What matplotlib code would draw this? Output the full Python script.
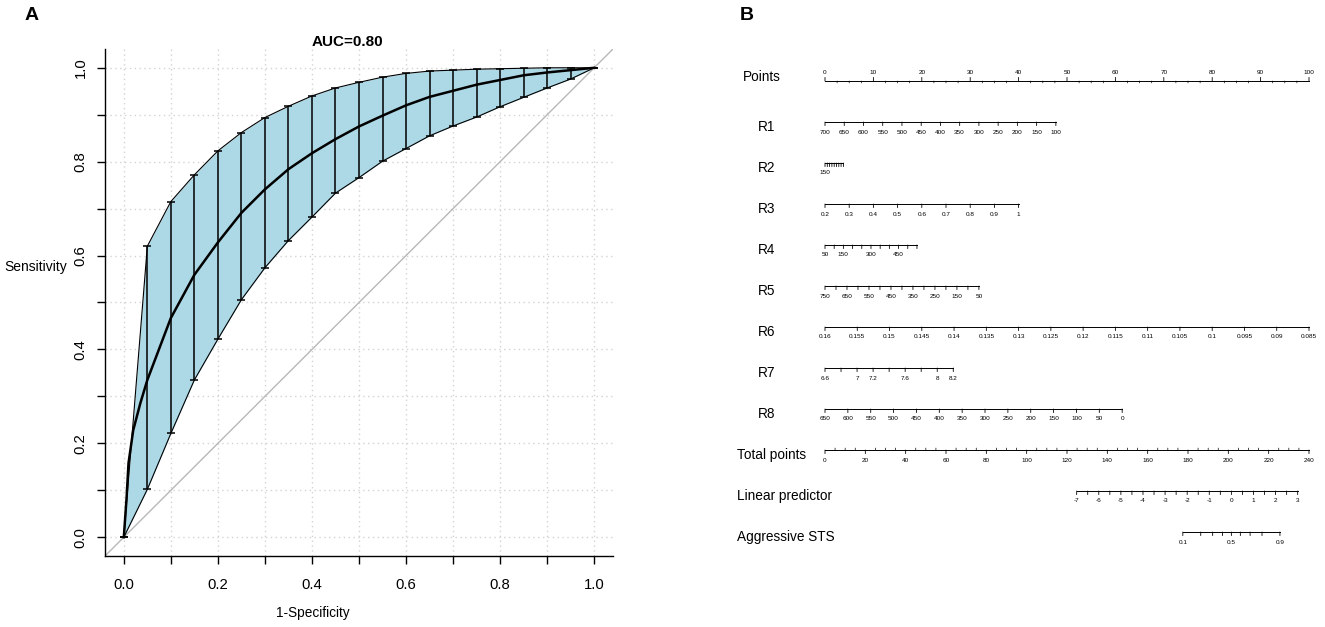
import numpy as np
import matplotlib.pyplot as plt

plt.rcParams['font.family'] = ['Liberation Sans', 'DejaVu Sans']

# ---- panel A: ROC with bootstrap CI ----
ci_fpr = [0.0, 0.05, 0.10, 0.15, 0.20, 0.25, 0.30, 0.35, 0.40, 0.45, 0.50,
          0.55, 0.60, 0.65, 0.70, 0.75, 0.80, 0.85, 0.90, 0.95, 1.0]
sens_upper = [0.0, 0.620, 0.715, 0.772, 0.823, 0.862, 0.894, 0.918, 0.940, 0.957, 0.969,
              0.980, 0.988, 0.993, 0.995, 0.997, 0.998, 0.999, 1.0, 1.0, 1.0]
sens_lower = [0.0, 0.102, 0.221, 0.335, 0.422, 0.506, 0.574, 0.632, 0.682, 0.733, 0.766,
              0.801, 0.828, 0.855, 0.876, 0.895, 0.917, 0.937, 0.957, 0.976, 1.0]

roc_fpr = [0.0, 0.003, 0.006, 0.01, 0.02, 0.035, 0.05, 0.10, 0.15, 0.20, 0.25, 0.30,
           0.35, 0.40, 0.45, 0.50, 0.55, 0.60, 0.65, 0.70, 0.75, 0.80, 0.85,
           0.90, 0.95, 1.0]
roc_sens = [0.0, 0.043, 0.086, 0.158, 0.228, 0.285, 0.335, 0.467, 0.559, 0.628, 0.691, 0.741,
            0.784, 0.818, 0.848, 0.875, 0.898, 0.920, 0.938, 0.951, 0.964, 0.974, 0.984,
            0.990, 0.995, 1.0]
auc_label = "AUC=0.80"

# ---- panel B: nomogram ----
points_ticks = list(range(0, 101, 10))
points_minor = list(np.arange(0, 100.1, 2.5))

R1_ticks = [700, 650, 600, 550, 500, 450, 400, 350, 300, 250, 200, 150, 100]
R1_labels = R1_ticks
R1_pts = 47.7
R2_ticks = [150, 160, 170, 180, 190, 200, 210, 220, 230]
R2_labels = [150]
R2_pts = 3.8
R3_ticks = [0.2, 0.3, 0.4, 0.5, 0.6, 0.7, 0.8, 0.9, 1]
R3_labels = R3_ticks
R3_pts = 40.0
R4_ticks = [50, 100, 150, 200, 250, 300, 350, 400, 450, 500, 550]
R4_labels = [50, 150, 300, 450]
R4_pts = 19.0
R5_ticks = [750, 700, 650, 600, 550, 500, 450, 400, 350, 300, 250, 200, 150, 100, 50]
R5_labels = [750, 650, 550, 450, 350, 250, 150, 50]
R5_pts = 31.8
R6_ticks = [0.16, 0.155, 0.15, 0.145, 0.14, 0.135, 0.13, 0.125, 0.12, 0.115,
            0.11, 0.105, 0.1, 0.095, 0.09, 0.085]
R6_labels = R6_ticks
R6_pts = 100.0
R7_ticks = [6.6, 6.8, 7.0, 7.2, 7.4, 7.6, 7.8, 8.0, 8.2]
R7_labels = [6.6, 7, 7.2, 7.6, 8, 8.2]
R7_pts = 26.5
R8_ticks = [650, 600, 550, 500, 450, 400, 350, 300, 250, 200, 150, 100, 50, 0]
R8_labels = R8_ticks
R8_pts = 61.4

total_ticks = list(range(0, 241, 20))
total_minor = list(range(0, 241, 5))
total_max = 240

lp_ticks = list(np.arange(-7, 3.01, 0.5))
lp_labels = [-7, -6, -5, -4, -3, -2, -1, 0, 1, 2, 3]
lp_pts_range = (52.0, 97.66)   # points at lp=-7 and lp=3

sts_ticks = [0.1, 0.2, 0.3, 0.4, 0.5, 0.6, 0.7, 0.8, 0.9]
sts_labels = [0.1, 0.5, 0.9]


def fmt(v):
    return '%g' % v


W, H = 1325, 627
fig = plt.figure(figsize=(W / 100, H / 100), dpi=100)

# ---------- ROC ----------
ax = fig.add_axes([105 / W, 1 - 556 / H, 508 / W, 507 / H])
ax.set_xlim(-0.04, 1.04)
ax.set_ylim(-0.04, 1.04)
ax.set_axisbelow(True)
ax.set_xticks(np.arange(0, 1.01, 0.2))
ax.set_xticks(np.arange(0.1, 1.0, 0.2), minor=True)
ax.set_yticks(np.arange(0, 1.01, 0.2))
ax.set_yticks(np.arange(0.1, 1.0, 0.2), minor=True)
ax.set_xticklabels(['%.1f' % v for v in np.arange(0, 1.01, 0.2)])
ax.set_yticklabels(['%.1f' % v for v in np.arange(0, 1.01, 0.2)], rotation=90, va='center')
ax.grid(which='both', ls=(0, (1, 2.5)), color='#d3d3d3', lw=1)
ax.tick_params(which='both', direction='out', length=5.5, width=1, labelsize=10.7, pad=10)
ax.tick_params(axis='y', pad=7)
for s in ['top', 'right']:
    ax.spines[s].set_visible(False)
for s in ['left', 'bottom']:
    ax.spines[s].set_linewidth(1)

ax.axline((0, 0), slope=1, color='#b8b8b8', lw=1, zorder=1)
ax.fill_between(ci_fpr, sens_lower, sens_upper, color='#add8e6', lw=0, zorder=2)
ax.plot(ci_fpr, sens_upper, color='k', lw=0.8, zorder=3)
ax.plot(ci_fpr, sens_lower, color='k', lw=0.8, zorder=3)
lo = np.array(sens_lower)
hi = np.array(sens_upper)
ax.errorbar(ci_fpr, lo, yerr=[np.zeros_like(lo), hi - lo], fmt='none', ecolor='k',
            elinewidth=1.1, capsize=2.9, capthick=1.1, zorder=4)
ax.plot(roc_fpr, roc_sens, color='k', lw=1.8, zorder=5)

fig.text(347 / W, 1 - 42 / H, auc_label, ha='center', va='center', fontsize=11, fontweight='bold')
fig.text(313 / W, 1 - 613 / H, '1-Specificity', ha='center', va='center', fontsize=9.8)
fig.text(4 / W, 1 - 267 / H, 'Sensitivity', ha='left', va='center', fontsize=10)
fig.text(25 / W, 1 - 15 / H, 'A', ha='left', va='center', fontsize=14, fontweight='bold')
fig.text(740 / W, 1 - 15 / H, 'B', ha='left', va='center', fontsize=14, fontweight='bold')

# ---------- nomogram ----------
px0, px100 = 825, 1309
ppu = (px100 - px0) / 100.0
L = 700
nx = fig.add_axes([L / W, 0, (W - L) / W, 1])
nx.set_xlim(-(px0 - L) / ppu, 100 + (W - px100) / ppu)
row0, drow = 81, 41
nx.set_ylim((H - row0) / drow, -row0 / drow)
nx.axis('off')

tick_fs = 4.6
lab_fs = 9.8


def row_label(row, text, left_px, dy):
    nx.annotate(text, ((left_px - px0) / ppu, row), xytext=(0, dy), textcoords='offset points',
                ha='left', va='center', fontsize=lab_fs)


def scale_axis(row, ticks, labels, to_pts, minor=None, up=False):
    xs = [to_pts(v) for v in ticks]
    nx.plot([min(xs), max(xs)], [row, row], color='k', lw=0.7)
    sgn = 1 if up else -1
    for v in ticks:
        nx.annotate('', (to_pts(v), row), xytext=(0, sgn * 2.6), textcoords='offset points',
                    arrowprops=dict(arrowstyle='-', lw=0.6, color='k', shrinkA=0, shrinkB=0))
    if minor is not None:
        for v in minor:
            if v in ticks:
                continue
            nx.annotate('', (to_pts(v), row), xytext=(0, -sgn * 1.4), textcoords='offset points',
                        arrowprops=dict(arrowstyle='-', lw=0.5, color='k', shrinkA=0, shrinkB=0))
    for v in labels:
        nx.annotate(fmt(v), (to_pts(v), row), xytext=(0, 5.8 if up else -7.2),
                    textcoords='offset points', ha='center', va='center', fontsize=tick_fs)


def linear(v0, v1, p1):
    return lambda v: (v - v0) * p1 / (v1 - v0)


# Points
scale_axis(0, points_ticks, points_ticks, lambda v: v, minor=points_minor, up=True)
row_label(0, 'Points', 743, 3)

variables = [
    ('R1', R1_ticks, R1_labels, R1_pts),
    ('R2', R2_ticks, R2_labels, R2_pts),
    ('R3', R3_ticks, R3_labels, R3_pts),
    ('R4', R4_ticks, R4_labels, R4_pts),
    ('R5', R5_ticks, R5_labels, R5_pts),
    ('R6', R6_ticks, R6_labels, R6_pts),
    ('R7', R7_ticks, R7_labels, R7_pts),
    ('R8', R8_ticks, R8_labels, R8_pts),
]
for i, (name, ticks, labels, pmax) in enumerate(variables, start=1):
    scale_axis(i, ticks, labels, linear(ticks[0], ticks[-1], pmax))
    row_label(i, name, 758, -3.5)

# Total points
tp = lambda v: v * 100.0 / total_max
scale_axis(9, total_ticks, total_ticks, tp, minor=total_minor)
row_label(9, 'Total points', 737, -3.5)

# Linear predictor
lp_to_pts = lambda v: lp_pts_range[0] + (v + 7) * (lp_pts_range[1] - lp_pts_range[0]) / 10.0
scale_axis(10, lp_ticks, lp_labels, lp_to_pts)
row_label(10, 'Linear predictor', 737, -3.5)

# Probability
sts_to_pts = lambda p: lp_to_pts(np.log(p / (1 - p)))
scale_axis(11, sts_ticks, sts_labels, sts_to_pts)
row_label(11, 'Aggressive STS', 737, -3.5)

fig.savefig('out.png', dpi=100)
